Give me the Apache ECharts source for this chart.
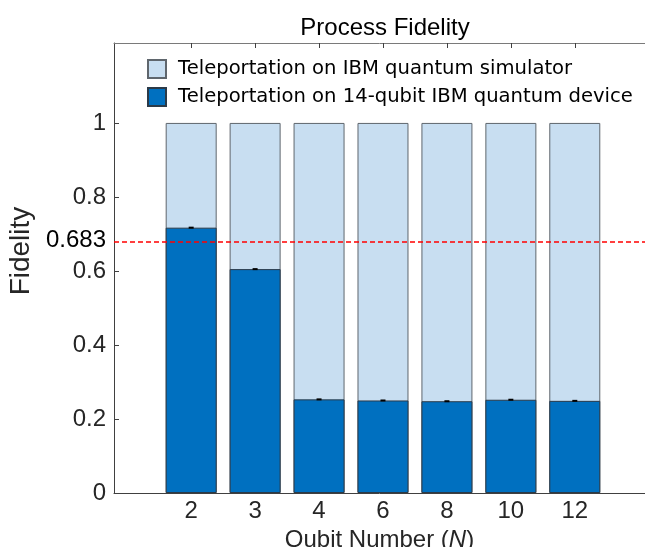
<!DOCTYPE html>
<html>
<head>
<meta charset="utf-8">
<script src="https://cdn.jsdelivr.net/npm/echarts@6/dist/echarts.min.js"></script>
<style>
html,body{margin:0;padding:0;background:#fff;}
#chart{width:645px;height:547px;}
</style>
</head>
<body>
<div id="chart"></div>
<script>
// ---- data ----
var categories = ['2', '3', '4', '6', '8', '10', '12'];
var simulatorFidelity = [1, 1, 1, 1, 1, 1, 1];
var deviceFidelity = [0.717, 0.605, 0.253, 0.250, 0.248, 0.252, 0.249];
var deviceError = [0.002, 0.002, 0.002, 0.002, 0.002, 0.002, 0.002];
var threshold = 0.683;
var yTicks = [0, 0.2, 0.4, 0.6, 0.8, 1];
var seriesNames = ['Teleportation on IBM quantum simulator', 'Teleportation on 14-qubit IBM quantum device'];

var positions = categories.map(function (c, i) { return i + 1; });
var simData = simulatorFidelity.map(function (v, i) { return [positions[i], v]; });
var devData = deviceFidelity.map(function (v, i) { return [positions[i], v]; });
var errData = deviceFidelity.map(function (v, i) { return [positions[i], v, deviceError[i]]; });
var yLabels = yTicks.concat([threshold]).sort(function (a, b) { return a - b; });

var chart = echarts.init(document.getElementById('chart'), null, {renderer: 'canvas'});
var sans = 'Liberation Sans, Arial, Helvetica, sans-serif';
var option = {
  animation: false,
  backgroundColor: '#ffffff',
  title: {
    text: 'Process Fidelity',
    left: 380, top: 11, textAlign: 'center',
    textStyle: {fontFamily: sans, fontSize: 24, fontWeight: 'normal', color: '#000'}
  },
  legend: {
    orient: 'vertical', left: 147, top: 59, padding: 0,
    itemWidth: 18, itemHeight: 18, itemGap: 8, icon: 'rect',
    data: seriesNames,
    textStyle: {fontFamily: 'DejaVu Sans, Verdana, sans-serif', fontSize: 19.6, color: '#000', padding: [0, 0, 0, 7]}
  },
  grid: {left: 114, right: 0, top: 43, bottom: 54, containLabel: false, outerBoundsMode: 'none'},
  xAxis: [{
    type: 'value', position: 'bottom', min: -0.207, max: 8.098,
    splitLine: {show: false},
    axisLine: {show: true, onZero: false, lineStyle: {color: '#404040', width: 1}},
    axisTick: {show: true, inside: true, length: 5, customValues: positions, lineStyle: {color: '#404040'}},
    axisLabel: {
      customValues: positions, margin: 6,
      formatter: function (v) { return categories[Math.round(v) - 1] || ''; },
      fontFamily: sans, fontSize: 24, color: '#262626'
    },
    name: 'Qubit Number ({i|N})', nameLocation: 'middle', nameGap: 25,
    nameTextStyle: {fontFamily: sans, fontSize: 24, color: '#262626',
      rich: {i: {fontFamily: sans, fontSize: 24, fontStyle: 'italic', color: '#262626'}}}
  }, {
    type: 'value', position: 'top', min: -0.207, max: 8.098,
    splitLine: {show: false},
    axisLine: {show: true, onZero: false, lineStyle: {color: '#7a7a7a', width: 1}},
    axisTick: {show: true, inside: true, length: 5, customValues: positions, lineStyle: {color: '#404040'}},
    axisLabel: {show: false}
  }],
  yAxis: {
    type: 'value', min: 0, max: 1.216,
    splitLine: {show: false},
    axisLine: {show: true, onZero: false, lineStyle: {color: '#404040', width: 1}},
    axisTick: {show: true, inside: true, length: 5, customValues: yTicks, lineStyle: {color: '#404040'}},
    axisLabel: {
      customValues: yLabels, margin: 8,
      formatter: function (v) {
        if (Math.abs(v - threshold) < 1e-9) return '{t|' + threshold + '}';
        return String(Math.round(v * 10) / 10);
      },
      fontFamily: sans, fontSize: 24, color: '#262626',
      rich: {t: {fontFamily: sans, fontSize: 24, color: '#000'}}
    },
    name: 'Fidelity', nameLocation: 'middle', nameGap: 78, nameRotate: 90,
    nameTextStyle: {fontFamily: sans, fontSize: 28, color: '#262626', padding: [0, 0, 0, 34]}
  },
  series: [{
    name: seriesNames[0], type: 'bar', xAxisIndex: 0, data: simData,
    barWidth: 51, barGap: '-100%',
    itemStyle: {color: '#C8DEF1', borderColor: '#5f666d', borderWidth: 1},
    markLine: {
      silent: true, symbol: 'none', label: {show: false},
      lineStyle: {color: '#ff0000', type: [5, 3], width: 1.5},
      data: [{yAxis: threshold}]
    },
    z: 2
  }, {
    name: seriesNames[1], type: 'bar', xAxisIndex: 0, data: devData,
    barWidth: 51, barGap: '-100%',
    itemStyle: {color: '#0070C0', borderColor: '#2b3a48', borderWidth: 1},
    z: 3
  }, {
    type: 'custom', xAxisIndex: 0, data: errData, z: 4, silent: true,
    renderItem: function (params, api) {
      var x = api.value(0), y = api.value(1), e = api.value(2);
      var p1 = api.coord([x, y + e]);
      var p2 = api.coord([x, y - e]);
      var h = Math.max(2, p2[1] - p1[1]);
      return {type: 'rect', shape: {x: p1[0] - 2.5, y: (p1[1] + p2[1]) / 2 - h / 2, width: 5, height: h},
        style: {fill: '#000'}};
    }
  }]
};
chart.setOption(option);
</script>
</body>
</html>
